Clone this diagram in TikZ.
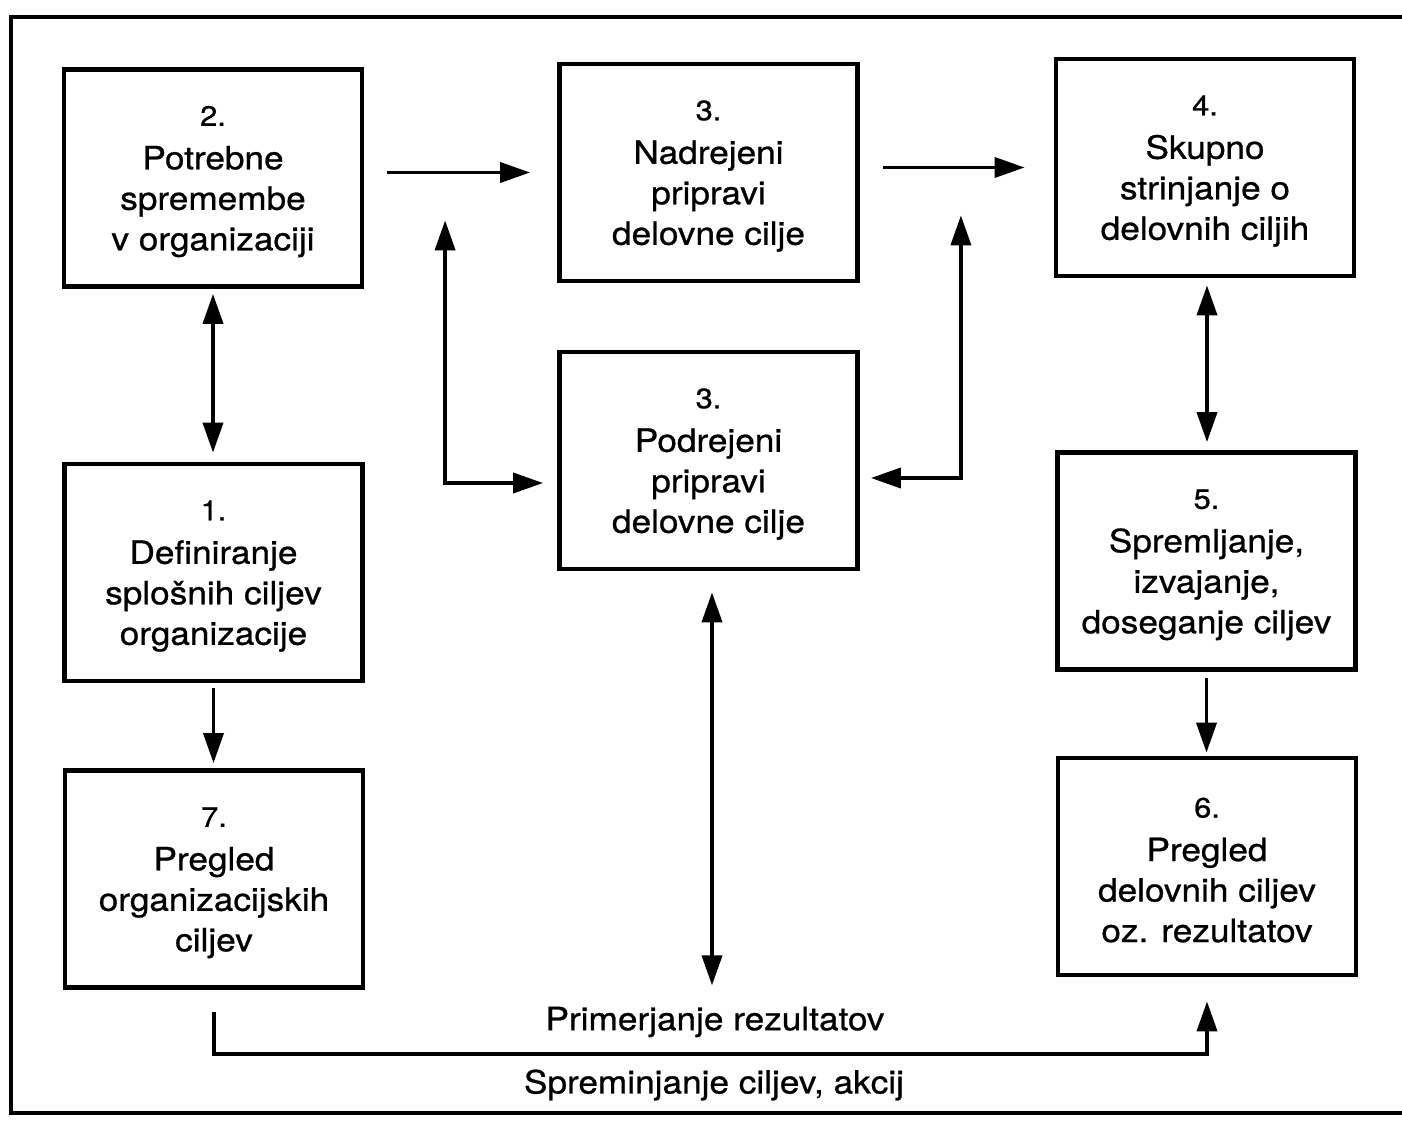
\documentclass[tikz,border=0pt]{standalone}
\usepackage{fontspec}
\setmainfont[FakeStretch=1.1,FakeBold=0.8]{TeX Gyre Heros}
\usetikzlibrary{arrows.meta,calc}
\newcommand\boxnum[1]{{\fontsize{14}{20.25}\selectfont\rule{0pt}{13.5pt}#1}\\[1.5pt]}
\begin{document}
\begin{tikzpicture}[x=0.5pt,y=-0.5pt,
  box/.style={draw, line width=2.4pt, minimum width=149pt, minimum height=108.5pt, inner sep=0pt, align=center, font=\fontsize{16}{20.25}\selectfont},
  conn/.style={line width=1.9pt, -{Triangle[length=15pt,width=10pt]}},
  conn2/.style={line width=1.9pt, {Triangle[length=15pt,width=10pt]}-{Triangle[length=15pt,width=10pt]}},
  lbl/.style={font=\fontsize{16}{20.25}\selectfont, inner sep=0pt},
  frame/.style={line width=2.3pt}]
\useasboundingbox (0,0) rectangle (1402,1122);
\fill[white] (0,0) rectangle (1402,1122);
\draw[frame] (1402,17) -- (11,17) -- (11,1113) -- (1402,1113);

\node[box] (b2) at (213,178) {\boxnum{2.}Potrebne\\spremembe\\v organizaciji};
\node[box] (b3t) at (708.5,172.5) {\boxnum{3.}Nadrejeni\\pripravi\\delovne cilje};
\node[box] (b4) at (1205,167.5) {\boxnum{4.}Skupno\\strinjanje o\\delovnih ciljih};
\node[box] (b3b) at (708.5,460.5) {\boxnum{3.}Podrejeni\\pripravi\\delovne cilje};
\node[box] (b1) at (213.5,572.5) {\boxnum{1.}Definiranje\\splošnih ciljev\\organizacije};
\node[box] (b5) at (1206.5,561) {\boxnum{5.}Spremljanje,\\izvajanje,\\doseganje ciljev};
\node[box] (b7) at (214,879) {\boxnum{7.}Pregled\\organizacijskih\\ciljev};
\node[box] (b6) at (1207,866.5) {\boxnum{6.}Pregled\\delovnih ciljev\\oz. rezultatov};

\draw[conn] ($(b2.east|-b3t.west)+(23,0)$) -- ($(b3t.west)+(-27,0)$);
\draw[conn] ($(b3t.east|-b4.west)+(23,0)$) -- ($(b4.west)+(-29,0)$);
\draw[conn2] ($(b2.south)+(0,5)$) -- ($(b2.south|-b1.north)+(0,-9)$);
\draw[conn] ($(b1.south)+(0,5)$) -- ($(b1.south|-b7.north)+(0,-5)$);
\draw[conn2] ($(b4.south)+(2,7)$) -- ($(b4.south|-b5.north)+(2,-8)$);
\draw[conn] ($(b5.south)+(0,6)$) -- ($(b5.south|-b6.north)+(0,-3)$);

\coordinate (lt) at ($(b3t.west|-b3t.south)+(-112,-63)$);
\draw[conn2] (lt) |- ($(b3b.west)+(-14,22.5)$);
\coordinate (rt) at ($(b3t.east|-b3t.south)+(101,-68)$);
\draw[conn2] (rt) |- ($(b3b.east)+(11,17.5)$);

\coordinate (mb) at ($(b3b.south)+(3.5,414)$);
\draw[conn2] ($(b3b.south)+(3.5,21)$) -- (mb);

\coordinate (fb) at ($(b7.south)+(0,64)$);
\draw[conn] ($(b7.south)+(0,22)$) -- (fb) -| ($(b6.south)+(0,24)$);

\node[lbl] (l1) at (715,1022) {Primerjanje rezultatov};
\node[lbl] (l2) at (714,1085) {Spreminjanje ciljev, akcij};
\end{tikzpicture}
\end{document}
